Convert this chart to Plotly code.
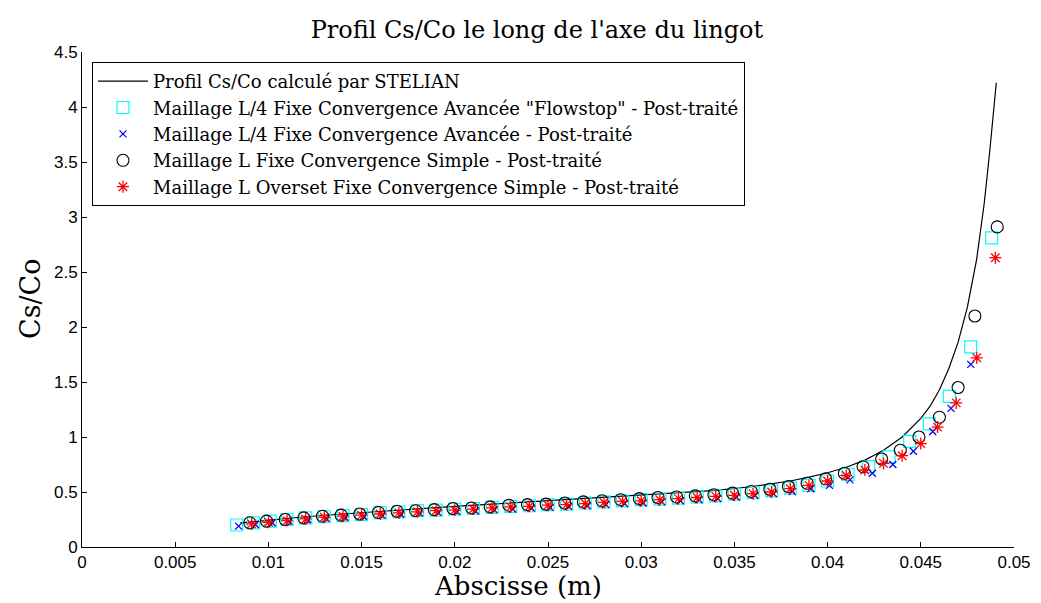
import plotly.graph_objects as go

# Analytical profile (STELIAN)
line_x = [0.0085, 0.010, 0.012, 0.014, 0.016, 0.018, 0.020, 0.022, 0.024, 0.026,
          0.028, 0.030, 0.032, 0.034, 0.036, 0.037, 0.038, 0.039, 0.040, 0.041,
          0.042, 0.043, 0.044, 0.045, 0.0455, 0.046, 0.0465, 0.047, 0.0475, 0.048,
          0.0484, 0.0487, 0.0489, 0.04905]
line_y = [0.22, 0.245, 0.275, 0.30, 0.325, 0.35, 0.37, 0.39, 0.41, 0.43,
          0.45, 0.47, 0.49, 0.515, 0.55, 0.575, 0.60, 0.635, 0.675, 0.725,
          0.79, 0.88, 1.00, 1.17, 1.28, 1.43, 1.62, 1.86, 2.18, 2.62,
          3.12, 3.6, 4.00, 4.22]

# L/4 mesh "Flowstop"
sq_x = [0.0083, 0.0092, 0.0101, 0.0110, 0.0120, 0.0130, 0.0140, 0.0150, 0.0160, 0.0170,
        0.0180, 0.0190, 0.0200, 0.0210, 0.0220, 0.0230, 0.0240, 0.0250, 0.0260, 0.0270,
        0.0280, 0.0290, 0.0300, 0.0310, 0.0320, 0.0330, 0.0340, 0.0350, 0.0360, 0.0370,
        0.0380, 0.0390, 0.0400, 0.0411, 0.0422, 0.0433, 0.0444, 0.04546, 0.04653, 0.04767,
        0.0488]
sq_y = [0.20, 0.22, 0.235, 0.25, 0.265, 0.275, 0.285, 0.295, 0.31, 0.32,
        0.33, 0.335, 0.345, 0.35, 0.36, 0.37, 0.375, 0.385, 0.39, 0.40,
        0.41, 0.42, 0.43, 0.435, 0.445, 0.455, 0.465, 0.48, 0.495, 0.51,
        0.535, 0.56, 0.60, 0.66, 0.73, 0.82, 0.96, 1.12, 1.37, 1.82,
        2.81]

# L/4 mesh advanced convergence
bx_x = [0.0084, 0.0093, 0.0102, 0.0111, 0.0121, 0.0131, 0.0141, 0.0151, 0.0161, 0.0171,
        0.0181, 0.0191, 0.0201, 0.0211, 0.0221, 0.0231, 0.0241, 0.0251, 0.0261, 0.0271,
        0.0281, 0.0291, 0.0301, 0.0311, 0.0321, 0.0331, 0.0341, 0.0351, 0.0361, 0.0371,
        0.0381, 0.0391, 0.0401, 0.0412, 0.0424, 0.0435, 0.0446, 0.04564, 0.04662, 0.04768]
bx_y = [0.19, 0.205, 0.22, 0.235, 0.25, 0.26, 0.27, 0.28, 0.29, 0.30,
        0.31, 0.315, 0.325, 0.33, 0.34, 0.345, 0.355, 0.36, 0.37, 0.375,
        0.385, 0.395, 0.40, 0.41, 0.42, 0.43, 0.44, 0.455, 0.47, 0.485,
        0.505, 0.53, 0.56, 0.61, 0.67, 0.75, 0.87, 1.05, 1.26, 1.66]

# L mesh simple convergence
ci_x = [0.0090, 0.0099, 0.0109, 0.0119, 0.0129, 0.0139, 0.0149, 0.0159, 0.0169, 0.0179,
        0.0189, 0.0199, 0.0209, 0.0219, 0.0229, 0.0239, 0.0249, 0.0259, 0.0269, 0.0279,
        0.0289, 0.0299, 0.0309, 0.0319, 0.0329, 0.0339, 0.0349, 0.0359, 0.0369, 0.0379,
        0.0389, 0.0399, 0.0409, 0.0419, 0.0429, 0.0439, 0.0449, 0.0460, 0.0470, 0.0479,
        0.0491]
ci_y = [0.22, 0.235, 0.25, 0.265, 0.28, 0.29, 0.30, 0.315, 0.325, 0.33,
        0.34, 0.35, 0.355, 0.365, 0.38, 0.385, 0.39, 0.40, 0.41, 0.42,
        0.43, 0.44, 0.45, 0.455, 0.465, 0.475, 0.49, 0.505, 0.525, 0.55,
        0.58, 0.62, 0.67, 0.73, 0.80, 0.88, 1.00, 1.18, 1.45, 2.10,
        2.91]

# L overset mesh simple convergence
st_x = [0.0091, 0.0100, 0.0110, 0.0120, 0.0130, 0.0140, 0.0150, 0.0160, 0.0170, 0.0180,
        0.0190, 0.0200, 0.0210, 0.0220, 0.0230, 0.0240, 0.0250, 0.0260, 0.0270, 0.0280,
        0.0290, 0.0300, 0.0310, 0.0320, 0.0330, 0.0340, 0.0350, 0.0360, 0.0370, 0.0380,
        0.0390, 0.0400, 0.0410, 0.0420, 0.0430, 0.0440, 0.0450, 0.0459, 0.0469, 0.0480,
        0.0490]
st_y = [0.21, 0.225, 0.24, 0.255, 0.27, 0.28, 0.29, 0.30, 0.31, 0.32,
        0.33, 0.335, 0.345, 0.355, 0.365, 0.37, 0.38, 0.385, 0.395, 0.405,
        0.415, 0.42, 0.43, 0.44, 0.45, 0.46, 0.47, 0.485, 0.50, 0.53,
        0.56, 0.60, 0.65, 0.70, 0.76, 0.83, 0.94, 1.09, 1.31, 1.72,
        2.63]

names = [
    "Profil Cs/Co calculé par STELIAN",
    "Maillage L/4 Fixe Convergence Avancée \"Flowstop\" - Post-traité",
    "Maillage L/4 Fixe Convergence Avancée - Post-traité",
    "Maillage L Fixe Convergence Simple - Post-traité",
    "Maillage L Overset Fixe Convergence Simple - Post-traité",
]
title_text = "Profil Cs/Co le long de l'axe du lingot"
x_title = "Abscisse (m)"
y_title = "Cs/Co"

fig = go.Figure()
fig.add_trace(go.Scatter(x=line_x, y=line_y, mode="lines", name=names[0],
                         line=dict(color="black", width=1.2)))
fig.add_trace(go.Scatter(x=sq_x, y=sq_y, mode="markers", name=names[1],
                         marker=dict(symbol="square-open", size=12, color="#00FFFF",
                                     line=dict(color="#00FFFF", width=1.2))))
fig.add_trace(go.Scatter(x=bx_x, y=bx_y, mode="markers", name=names[2],
                         marker=dict(symbol="x-thin-open", size=7, color="#0000FF",
                                     line=dict(color="#0000FF", width=1.3))))
fig.add_trace(go.Scatter(x=ci_x, y=ci_y, mode="markers", name=names[3],
                         marker=dict(symbol="circle-open", size=12, color="black",
                                     line=dict(color="black", width=1.1))))
fig.add_trace(go.Scatter(x=st_x, y=st_y, mode="markers", name=names[4],
                         marker=dict(symbol="asterisk-open", size=10, color="#FF0000",
                                     line=dict(color="#FF0000", width=1.3))))

serif = "DejaVu Serif, serif"
sans = "Liberation Sans, Arial, sans-serif"

# page body has an 8px margin: figure is drawn from (8, 8)
fig.update_layout(
    width=1033, height=595,
    margin=dict(l=74, r=27, t=44, b=56),
    paper_bgcolor="white", plot_bgcolor="white",
    title=dict(text=title_text, x=0.512, xanchor="center",
               y=0.963, yanchor="middle", font=dict(family=serif, size=24, color="black")),
    legend=dict(x=0.0107, y=0.98, xanchor="left", yanchor="top",
                bgcolor="white", bordercolor="black", borderwidth=1,
                font=dict(family=serif, size=18, color="black"),
                tracegroupgap=0, itemwidth=50),
    xaxis=dict(range=[0, 0.05], dtick=0.005, tick0=0, showgrid=False, zeroline=False,
               showline=True, linecolor="black", linewidth=1, automargin=False,
               ticks="inside", ticklen=5, tickcolor="black",
               tickfont=dict(family=sans, size=17, color="black")),
    yaxis=dict(range=[0, 4.5], dtick=0.5, tick0=0, showgrid=False, zeroline=False,
               showline=True, linecolor="black", linewidth=1, automargin=False,
               ticks="inside", ticklen=5, tickcolor="black",
               tickfont=dict(family=sans, size=17, color="black")),
    annotations=[
        dict(text=x_title, xref="paper", yref="paper", x=0.468, y=-0.113,
             xanchor="center", yanchor="bottom", showarrow=False,
             font=dict(family=serif, size=26, color="black")),
        dict(text=y_title, xref="paper", yref="paper", x=-0.0558, y=0.503,
             xanchor="center", yanchor="middle", showarrow=False, textangle=-90,
             font=dict(family=serif, size=27, color="black")),
    ],
)

fig.write_html("out.html")
